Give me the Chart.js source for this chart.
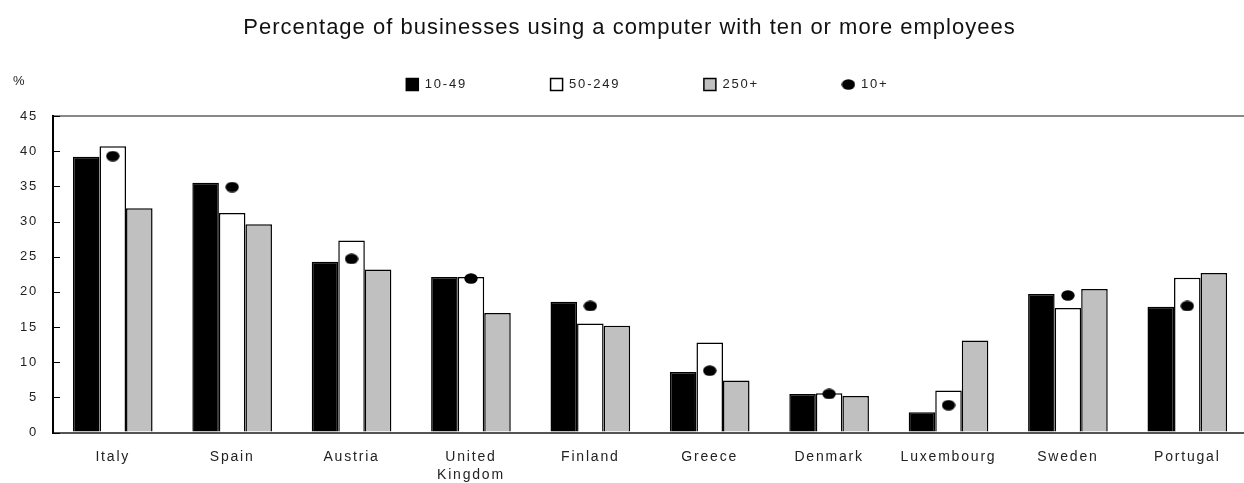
<!DOCTYPE html>
<html>
<head>
<meta charset="utf-8">
<script src="https://cdn.jsdelivr.net/npm/chart.js@4"></script>
<style>
  html, body { margin: 0; padding: 0; background: #fff; overflow: hidden; }
  #wrap { width: 1254px; height: 483px; }
</style>
</head>
<body>
<div id="wrap"><canvas id="chart"></canvas></div>
<script>
const titleText = 'Percentage of businesses using a computer with ten or more employees';
const countries = ['Italy', 'Spain', 'Austria', ['United', 'Kingdom'], 'Finland', 'Greece', 'Denmark', 'Luxembourg', 'Sweden', 'Portugal'];
const seriesNames = ['10-49', '50-249', '250+', '10+'];
const small = [39.2, 35.5, 24.3, 22.1, 18.6, 8.6, 5.5, 2.9, 19.7, 17.9];
const medium = [40.7, 31.2, 27.3, 22.1, 15.5, 12.8, 5.6, 6.0, 17.7, 22.0];
const large = [31.9, 29.6, 23.2, 17.0, 15.2, 7.4, 5.2, 13.1, 20.4, 22.7];
const allSizes = [39.3, 34.9, 24.7, 21.9, 18.0, 8.8, 5.5, 3.9, 19.5, 18.0];
const yMin = 0, yMax = 45, yStep = 5;

const SPACING = '1.8px';
const FONT = 'Arial, "Liberation Sans", sans-serif';

// ellipse marker for the 10+ series
function makeDot(w, h) {
  const c = document.createElement('canvas');
  c.width = w; c.height = h;
  const g = c.getContext('2d');
  g.fillStyle = '#000';
  g.beginPath();
  g.ellipse(w / 2, h / 2, w / 2 - 0.3, h / 2 - 0.3, 0, 0, Math.PI * 2);
  g.fill();
  return c;
}
const dot = makeDot(14, 11);

function pad(n) { return ' '.repeat(n); }
const legendPad = [11, 11, 11, 1];

const spacingPlugin = {
  id: 'spacing',
  afterInit(chart) {
    const t = chart.titleBlock;
    const draw = t.draw.bind(t);
    t.draw = function () {
      const ctx = chart.ctx;
      const old = ctx.letterSpacing;
      ctx.letterSpacing = '1px';
      draw();
      ctx.letterSpacing = old;
    };
    // leave a gap between the legend and the plot
    const lg = chart.legend;
    const fit = lg.fit.bind(lg);
    lg.fit = function () {
      fit();
      this.height += 15;
    };
  },
  beforeUpdate(chart) { chart.ctx.letterSpacing = SPACING; },
  beforeDraw(chart) { chart.ctx.letterSpacing = SPACING; },
  afterDraw(chart) {
    const ctx = chart.ctx;
    const y = chart.scales.y;
    ctx.save();
    ctx.strokeStyle = '#000';
    ctx.lineWidth = 1;
    y.ticks.forEach(t => {
      const py = Math.round(y.getPixelForValue(t.value)) + 0.5;
      ctx.beginPath();
      ctx.moveTo(y.right, py);
      ctx.lineTo(y.right + 7, py);
      ctx.stroke();
    });
    ctx.fillStyle = '#222';
    ctx.font = '13px ' + FONT;
    ctx.textBaseline = 'middle';
    ctx.textAlign = 'left';
    ctx.fillText('%', 13, 81);
    ctx.restore();
  }
};

const ctx = document.getElementById('chart').getContext('2d');
new Chart(ctx, {
  data: {
    labels: countries,
    datasets: [
      { type: 'bar', label: seriesNames[0], data: small, backgroundColor: '#000', borderColor: '#000', borderWidth: 1.5 },
      { type: 'bar', label: seriesNames[1], data: medium, backgroundColor: '#fff', borderColor: '#000', borderWidth: 1.5 },
      { type: 'bar', label: seriesNames[2], data: large, backgroundColor: '#c0c0c0', borderColor: '#000', borderWidth: 1.5 },
      { type: 'line', label: seriesNames[3], data: allSizes, showLine: false, order: -1,
        pointStyle: dot, pointRadius: 6, backgroundColor: '#000', borderColor: '#000' }
    ]
  },
  options: {
    responsive: true,
    maintainAspectRatio: false,
    animation: false,
    layout: { padding: { left: 5, right: 0, top: 0, bottom: -16 } },
    datasets: { bar: { categoryPercentage: 0.667, barPercentage: 1 } },
    plugins: {
      title: {
        display: true,
        text: titleText,
        color: '#111',
        font: { family: FONT, size: 22, weight: 'normal' },
        padding: { top: 15, bottom: 12.6 }
      },
      legend: {
        display: true,
        fullSize: false,
        labels: {
          color: '#222',
          font: { family: FONT, size: 13 },
          boxWidth: 12,
          boxHeight: 12,
          padding: 24,
          usePointStyle: true,
          sort: (a, b) => a.datasetIndex - b.datasetIndex,
          generateLabels(chart) {
            const items = Chart.defaults.plugins.legend.labels.generateLabels(chart);
            items.forEach(it => {
              const i = it.datasetIndex;
              it.text = seriesNames[i] + pad(legendPad[i]);
              if (i < 3) {
                it.pointStyle = 'rect';
                it.lineWidth = 1.5;
                it.strokeStyle = '#000';
              } else {
                it.pointStyle = dot;
              }
            });
            return items;
          }
        }
      },
      tooltip: { enabled: false }
    },
    scales: {
      x: {
        grid: { display: false, drawTicks: false },
        border: { display: true, color: '#555', width: 2 },
        ticks: {
          color: '#222',
          font: { family: FONT, size: 14, lineHeight: 1.3 },
          padding: 15,
          maxRotation: 0,
          autoSkip: false
        }
      },
      y: {
        min: yMin,
        max: yMax,
        grid: {
          drawTicks: false,
          lineWidth: 2,
          color: c => c.tick && c.tick.value === yMax ? '#888' : 'rgba(0,0,0,0)'
        },
        border: { display: true, color: '#000', width: 2 },
        ticks: {
          stepSize: yStep,
          color: '#222',
          font: { family: FONT, size: 13 },
          padding: 15
        }
      }
    }
  },
  plugins: [spacingPlugin]
});
</script>
</body>
</html>
